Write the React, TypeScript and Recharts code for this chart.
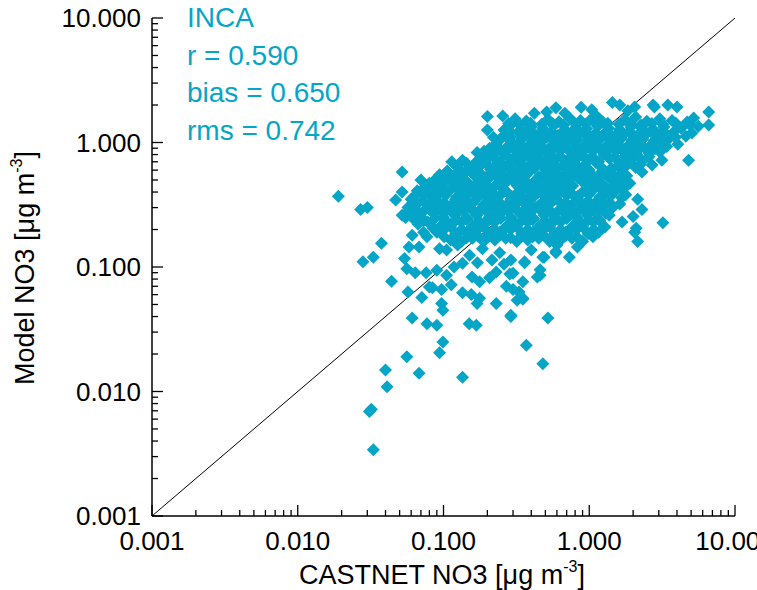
import { ScatterChart, Scatter, XAxis, YAxis } from 'recharts';

const CYAN = '#05a5c8';
const FONT = '"Liberation Sans", Arial, Helvetica, sans-serif';

// axis ticks: labelled decades plus the 2..9 minor marks
const decadeTicks = [0.001, 0.01, 0.1, 1, 10];
const minorTicks = [
  0.002, 0.003, 0.004, 0.005, 0.006, 0.007, 0.008, 0.009,
  0.02, 0.03, 0.04, 0.05, 0.06, 0.07, 0.08, 0.09,
  0.2, 0.3, 0.4, 0.5, 0.6, 0.7, 0.8, 0.9,
  2, 3, 4, 5, 6, 7, 8, 9,
];

const statLines = ['INCA', 'r = 0.590', 'bias = 0.650', 'rms = 0.742'];

// 1:1 line end points
const oneToOne = [{ x: 0.001, y: 0.001 }, { x: 10, y: 10 }];

// [CASTNET, model] pairs in µg m-3
const topRim: [number, number][] = [
  [0.2, 1.62], [0.255, 1.63], [0.42, 1.72], [0.51, 1.76], [0.59, 1.9], [0.68, 1.72],
  [0.88, 1.92], [1.04, 1.83], [1.13, 1.62], [1.44, 2.1], [1.62, 2.0], [1.84, 1.8],
  [2.05, 1.93], [2.74, 2.0], [2.8, 1.93], [3.46, 2.0], [4.0, 1.93], [6.6, 1.76], [6.6, 1.38],
];

const upperCore: [number, number][] = [
  [0.31, 1.55], [0.37, 1.49], [0.52, 1.54], [0.62, 1.47], [0.73, 1.58], [0.87, 1.5], [1.04, 1.56],
  [1.24, 1.46], [1.75, 1.53], [2.08, 1.6], [2.48, 1.48], [3.05, 1.55], [3.7, 1.5], [5.2, 1.57],
  [0.28, 1.42], [0.333, 1.39], [0.396, 1.43], [0.472, 1.4], [0.561, 1.42], [0.668, 1.38],
  [0.795, 1.43], [0.946, 1.41], [1.13, 1.39], [1.34, 1.43], [1.6, 1.4], [1.9, 1.42], [2.26, 1.38],
  [2.69, 1.42], [3.2, 1.4], [3.93, 1.43], [4.9, 1.39],
  [0.28, 1.33], [0.34, 1.28], [0.4, 1.34], [0.48, 1.3], [0.57, 1.36], [0.68, 1.27], [0.81, 1.32],
  [0.96, 1.29], [1.14, 1.35], [1.36, 1.3], [1.62, 1.27], [1.93, 1.34], [2.29, 1.31], [2.74, 1.28],
  [3.25, 1.33], [4.26, 1.3], [5.6, 1.35],
  [0.276, 1.22], [0.328, 1.19], [0.39, 1.23], [0.464, 1.2], [0.553, 1.22], [0.657, 1.19],
  [0.782, 1.23], [0.931, 1.21], [1.11, 1.19], [1.32, 1.23], [1.57, 1.2], [1.87, 1.22], [2.22, 1.19],
  [2.65, 1.23], [3.15, 1.2], [3.81, 1.22],
  [0.255, 1.11], [0.3, 1.16], [0.36, 1.12], [0.43, 1.15], [0.51, 1.1], [0.61, 1.14], [0.72, 1.12],
  [0.86, 1.17], [1.02, 1.11], [1.22, 1.13], [1.45, 1.09], [1.72, 1.15], [2.05, 1.12], [2.44, 1.16],
  [2.9, 1.1], [3.46, 1.14], [4.6, 1.12],
  [0.243, 1.05], [0.289, 1.03], [0.344, 1.07], [0.409, 1.04], [0.487, 1.06], [0.579, 1.03],
  [0.689, 1.06], [0.821, 1.04], [0.976, 1.07], [1.16, 1.03], [1.38, 1.05], [1.65, 1.07],
  [1.96, 1.04], [2.33, 1.06], [2.78, 1.03], [3.46, 1.05],
  [0.23, 0.98], [0.28, 0.95], [0.33, 0.99], [0.39, 0.96], [0.46, 1.0], [0.55, 0.94], [0.66, 0.97],
  [0.78, 1.0], [0.93, 0.95], [1.11, 0.98], [1.32, 0.94], [1.57, 0.99], [1.87, 0.96], [2.22, 0.98],
  [2.65, 0.95], [3.15, 0.99], [4.05, 0.97],
  [0.207, 0.9], [0.247, 0.88], [0.293, 0.92], [0.349, 0.89], [0.416, 0.91], [0.495, 0.88],
  [0.588, 0.92], [0.7, 0.9], [0.834, 0.88], [0.992, 0.91], [1.18, 0.89], [1.4, 0.92], [1.67, 0.88],
  [1.99, 0.9], [2.37, 0.92], [2.82, 0.89],
  [0.19, 0.85], [0.225, 0.82], [0.27, 0.86], [0.32, 0.83], [0.38, 0.85], [0.45, 0.81], [0.54, 0.84],
  [0.64, 0.87], [0.76, 0.82], [0.9, 0.84], [1.07, 0.86], [1.28, 0.82], [1.52, 0.85], [1.81, 0.83],
  [2.15, 0.86], [2.57, 0.82], [3.05, 0.84],
  [0.185, 0.78], [0.221, 0.76], [0.263, 0.8], [0.313, 0.77], [0.373, 0.79], [0.443, 0.76],
  [0.527, 0.8], [0.627, 0.78], [0.746, 0.76], [0.888, 0.79], [1.05, 0.77], [1.26, 0.8], [1.49, 0.76],
  [1.78, 0.78], [2.12, 0.8], [2.57, 0.77],
  [0.17, 0.71], [0.2, 0.74], [0.245, 0.7], [0.29, 0.73], [0.34, 0.72], [0.41, 0.75], [0.49, 0.7],
  [0.58, 0.73], [0.69, 0.71], [0.82, 0.74], [0.98, 0.72], [1.16, 0.7], [1.38, 0.74], [1.65, 0.72],
  [1.96, 0.73], [2.33, 0.71],
];

const middleCore: [number, number][] = [
  [0.144, 0.68], [0.163, 0.66], [0.194, 0.69], [0.232, 0.67], [0.276, 0.65], [0.328, 0.68],
  [0.39, 0.66], [0.464, 0.69], [0.553, 0.67], [0.657, 0.65], [0.782, 0.68], [0.931, 0.66],
  [1.11, 0.69], [1.57, 0.65], [1.87, 0.68], [2.22, 0.66],
  [0.125, 0.63], [0.15, 0.6], [0.176, 0.64], [0.21, 0.61], [0.25, 0.63], [0.3, 0.6], [0.355, 0.64],
  [0.42, 0.62], [0.5, 0.6], [0.6, 0.64], [0.71, 0.61], [0.85, 0.63], [1.0, 0.6], [1.2, 0.64],
  [1.42, 0.62], [1.7, 0.61], [2.08, 0.63],
  [0.106, 0.59], [0.123, 0.57], [0.146, 0.6], [0.174, 0.58], [0.207, 0.56], [0.247, 0.59],
  [0.293, 0.57], [0.349, 0.6], [0.495, 0.56], [0.588, 0.59], [0.7, 0.57], [0.834, 0.6],
  [0.992, 0.58], [1.18, 0.56], [1.4, 0.59], [1.67, 0.57],
  [0.094, 0.55], [0.112, 0.52], [0.133, 0.54], [0.158, 0.56], [0.188, 0.53], [0.225, 0.55],
  [0.267, 0.52], [0.318, 0.54], [0.378, 0.56], [0.45, 0.53], [0.536, 0.55], [0.637, 0.52],
  [0.76, 0.54], [0.9, 0.56], [1.07, 0.53], [1.28, 0.55], [1.52, 0.52], [1.81, 0.54],
  [0.087, 0.5], [0.103, 0.49], [0.123, 0.51], [0.146, 0.48], [0.174, 0.5], [0.207, 0.52],
  [0.247, 0.49], [0.293, 0.51], [0.349, 0.5], [0.416, 0.48], [0.495, 0.51], [0.588, 0.5],
  [0.7, 0.49], [0.834, 0.52], [0.992, 0.5], [1.18, 0.48], [1.4, 0.51], [1.67, 0.5],
  [0.08, 0.47], [0.095, 0.45], [0.114, 0.48], [0.135, 0.46], [0.16, 0.44], [0.19, 0.47], [0.23, 0.46],
  [0.27, 0.48], [0.32, 0.45], [0.38, 0.47], [0.46, 0.44], [0.54, 0.46], [0.65, 0.48], [0.77, 0.45],
  [0.92, 0.47], [1.09, 0.46], [1.3, 0.44], [1.54, 0.47], [1.84, 0.46],
  [0.073, 0.43], [0.087, 0.44], [0.103, 0.42], [0.123, 0.43], [0.146, 0.44], [0.174, 0.42],
  [0.207, 0.43], [0.247, 0.44], [0.349, 0.43], [0.416, 0.44], [0.495, 0.42], [0.588, 0.43],
  [0.7, 0.44], [0.992, 0.43], [1.18, 0.44], [1.4, 0.42], [1.65, 0.43],
  [0.066, 0.41], [0.079, 0.39], [0.094, 0.4], [0.112, 0.42], [0.133, 0.39], [0.158, 0.41],
  [0.188, 0.4], [0.225, 0.38], [0.267, 0.41], [0.318, 0.39], [0.378, 0.42], [0.45, 0.4],
  [0.536, 0.38], [0.637, 0.41], [0.758, 0.39], [0.9, 0.4], [1.07, 0.42], [1.28, 0.39],
  [1.52, 0.41], [1.78, 0.38],
  [0.063, 0.37], [0.073, 0.38], [0.087, 0.36], [0.103, 0.375], [0.123, 0.365], [0.146, 0.38],
  [0.174, 0.37], [0.207, 0.36], [0.247, 0.38], [0.293, 0.37], [0.349, 0.365], [0.416, 0.38],
  [0.495, 0.37], [0.588, 0.36], [0.7, 0.375], [0.834, 0.37], [0.992, 0.38], [1.18, 0.365], [1.4, 0.37],
  [0.06, 0.35], [0.072, 0.34], [0.085, 0.36], [0.101, 0.33], [0.121, 0.35], [0.144, 0.34],
  [0.171, 0.36], [0.204, 0.35], [0.243, 0.33], [0.29, 0.35], [0.344, 0.34], [0.41, 0.36],
  [0.49, 0.34], [0.58, 0.35], [0.69, 0.33], [0.82, 0.36], [0.98, 0.34], [1.16, 0.35],
  [1.38, 0.33], [1.67, 0.36],
];

const lowerCore: [number, number][] = [
  [0.066, 0.32], [0.079, 0.315], [0.094, 0.325], [0.112, 0.31], [0.133, 0.32], [0.158, 0.325],
  [0.188, 0.315], [0.225, 0.32], [0.267, 0.31], [0.318, 0.325], [0.378, 0.32], [0.449, 0.31],
  [0.536, 0.32], [0.637, 0.325], [0.758, 0.315], [0.902, 0.32], [1.07, 0.31], [1.28, 0.32],
  [0.063, 0.3], [0.075, 0.29], [0.089, 0.31], [0.106, 0.29], [0.127, 0.3], [0.151, 0.31],
  [0.179, 0.29], [0.214, 0.3], [0.255, 0.28], [0.303, 0.31], [0.36, 0.29], [0.43, 0.3],
  [0.51, 0.31], [0.61, 0.28], [0.72, 0.3], [0.86, 0.29], [1.02, 0.31], [1.22, 0.29], [1.45, 0.3],
  [0.0575, 0.28], [0.068, 0.27], [0.081, 0.285], [0.097, 0.275], [0.116, 0.27], [0.137, 0.28],
  [0.163, 0.275], [0.194, 0.285], [0.232, 0.27], [0.276, 0.28], [0.328, 0.275], [0.39, 0.27],
  [0.464, 0.285], [0.553, 0.275], [0.657, 0.28], [0.782, 0.27], [0.931, 0.28], [1.11, 0.275], [1.3, 0.27],
  [0.061, 0.26], [0.071, 0.25], [0.086, 0.27], [0.1, 0.25], [0.12, 0.26], [0.145, 0.24],
  [0.17, 0.26], [0.205, 0.25], [0.24, 0.27], [0.29, 0.25], [0.345, 0.26], [0.41, 0.24],
  [0.49, 0.26], [0.58, 0.25], [0.69, 0.27], [0.82, 0.25], [0.97, 0.26], [1.17, 0.24], [1.37, 0.26],
  [0.063, 0.24], [0.073, 0.235], [0.087, 0.245], [0.103, 0.235], [0.123, 0.24], [0.146, 0.245],
  [0.174, 0.235], [0.207, 0.24], [0.247, 0.245], [0.293, 0.235], [0.349, 0.24], [0.416, 0.245],
  [0.495, 0.235], [0.588, 0.24], [0.7, 0.245], [0.834, 0.235], [0.992, 0.24], [1.18, 0.235],
  [0.067, 0.22], [0.078, 0.23], [0.094, 0.21], [0.112, 0.22], [0.133, 0.23], [0.158, 0.21],
  [0.188, 0.22], [0.225, 0.23], [0.267, 0.21], [0.318, 0.22], [0.378, 0.23], [0.45, 0.21],
  [0.536, 0.22], [0.637, 0.23], [0.758, 0.21], [0.9, 0.22], [1.07, 0.23], [1.28, 0.21],
  [0.085, 0.205], [0.112, 0.21], [0.133, 0.2], [0.158, 0.205], [0.188, 0.21], [0.225, 0.2],
  [0.267, 0.205], [0.318, 0.21], [0.378, 0.2], [0.449, 0.205], [0.536, 0.21], [0.637, 0.2],
  [0.758, 0.205], [0.902, 0.21], [1.07, 0.2],
  [0.073, 0.19], [0.101, 0.2], [0.121, 0.185], [0.144, 0.19], [0.171, 0.2], [0.204, 0.185],
  [0.243, 0.19], [0.289, 0.2], [0.344, 0.185], [0.41, 0.19], [0.487, 0.2], [0.58, 0.185],
  [0.69, 0.19], [0.82, 0.2], [0.98, 0.185], [1.16, 0.19],
  [0.101, 0.175], [0.121, 0.18], [0.144, 0.172], [0.171, 0.178], [0.204, 0.175], [0.243, 0.18],
  [0.289, 0.172], [0.344, 0.178], [0.409, 0.175], [0.487, 0.18], [0.579, 0.172], [0.689, 0.178],
  [0.821, 0.175],
  [0.112, 0.165], [0.133, 0.16], [0.158, 0.17], [0.188, 0.16], [0.225, 0.165], [0.267, 0.17],
  [0.318, 0.16], [0.378, 0.165], [0.45, 0.17], [0.536, 0.16], [0.637, 0.165], [0.76, 0.17],
];

const rightFringe: [number, number][] = [
  [5.06, 1.19], [4.7, 1.46], [4.8, 0.72], [3.9, 1.1], [3.4, 0.93], [3.15, 0.72], [2.7, 0.66],
  [2.3, 0.58], [2.15, 0.35], [1.9, 0.47], [3.2, 0.227], [2.15, 0.16], [2.1, 0.205], [2.3, 0.29],
  [2.0, 0.255], [2.05, 0.19], [1.68, 0.23], [1.62, 0.32], [1.06, 0.175], [0.9, 0.16], [0.83, 0.145],
  [0.73, 0.12], [0.6, 0.15], [0.59, 0.133], [0.49, 0.12], [0.46, 0.095], [0.44, 0.083], [0.36, 0.11],
  [0.35, 0.076], [0.35, 0.056], [0.3, 0.066], [0.4, 0.137], [0.52, 0.039], [0.3, 0.089],
];

const upperLeft: [number, number][] = [
  [0.052, 0.58], [0.07, 0.5], [0.047, 0.345], [0.052, 0.4], [0.09, 0.43], [0.114, 0.7],
  [0.135, 0.72], [0.17, 0.83], [0.208, 0.87], [0.105, 0.57], [0.165, 0.6], [0.2, 1.26],
  [0.22, 1.1], [0.26, 1.26], [0.3, 1.46], [0.38, 1.26], [0.055, 0.25], [0.061, 0.18],
];

const lowerTail: [number, number][] = [
  [0.028, 0.11], [0.033, 0.12], [0.0375, 0.155], [0.044, 0.077], [0.057, 0.063], [0.054, 0.117],
  [0.056, 0.097], [0.064, 0.09], [0.076, 0.09], [0.071, 0.057], [0.08, 0.069], [0.061, 0.039],
  [0.077, 0.035], [0.09, 0.034], [0.099, 0.025], [0.094, 0.0205], [0.056, 0.019], [0.04, 0.0149],
  [0.068, 0.014], [0.041, 0.0109], [0.032, 0.0072], [0.031, 0.0069], [0.033, 0.0034], [0.135, 0.013],
  [0.37, 0.0235], [0.48, 0.0167], [0.29, 0.04], [0.15, 0.035], [0.168, 0.034], [0.23, 0.051],
  [0.17, 0.051], [0.097, 0.051], [0.099, 0.045], [0.35, 0.055], [0.285, 0.088], [0.33, 0.063],
  [0.27, 0.07], [0.23, 0.091], [0.207, 0.082], [0.177, 0.076], [0.157, 0.083], [0.36, 0.108],
  [0.46, 0.086], [0.48, 0.12], [0.59, 0.13], [0.135, 0.107], [0.215, 0.114], [0.052, 0.26],
  [0.057, 0.3], [0.058, 0.145], [0.068, 0.145], [0.077, 0.175], [0.09, 0.19], [0.105, 0.137],
  [0.094, 0.14], [0.084, 0.068], [0.09, 0.094], [0.105, 0.086], [0.097, 0.066], [0.113, 0.072],
  [0.118, 0.1], [0.135, 0.062], [0.177, 0.056], [0.29, 0.114], [0.155, 0.06], [0.29, 0.041],
  [0.32, 0.054], [0.151, 0.124], [0.185, 0.14], [0.243, 0.13], [0.171, 0.108], [0.26, 0.105],
  [0.125, 0.15],
];

const farOutliers: [number, number][] = [[0.019, 0.37], [0.027, 0.29], [0.03, 0.3]];

const points = [
  ...lowerTail, ...farOutliers, ...upperLeft, ...rightFringe,
  ...lowerCore, ...middleCore, ...upperCore, ...topRim,
].map(([x, y]) => ({ x, y }));

const axisTicks = [...decadeTicks, ...minorTicks];
const isDecade = (v: number) => decadeTicks.some((d) => Math.abs(d - v) < d * 1e-6);

const Diamond = (props: any) => {
  const { cx, cy } = props;
  if (cx == null || cy == null) return null;
  const r = 6.5;
  return <path d={`M${cx},${cy - r}L${cx + r},${cy}L${cx},${cy + r}L${cx - r},${cy}Z`} fill={CYAN} />;
};

// ticks point into the plot; only decades get a label
const XTick = (props: any) => {
  const { x, y, payload } = props;
  const major = isDecade(payload.value);
  return (
    <g>
      <line x1={x} x2={x} y1={y} y2={y - (major ? 11 : 6)} stroke="#000" strokeWidth={1.3} />
      {major && (
        <text x={x} y={y + 34} textAnchor="middle" fontSize={26} fontFamily={FONT} fill="#000">
          {payload.value.toFixed(3)}
        </text>
      )}
    </g>
  );
};

const YTick = (props: any) => {
  const { x, y, payload } = props;
  const major = isDecade(payload.value);
  return (
    <g>
      <line x1={x} x2={x + (major ? 11 : 6)} y1={y} y2={y} stroke="#000" strokeWidth={1.3} />
      {major && (
        <text x={x - 11} y={y + 9} textAnchor="end" fontSize={26} fontFamily={FONT} fill="#000">
          {payload.value.toFixed(3)}
        </text>
      )}
    </g>
  );
};

export default function App() {
  return (
    <div style={{ position: 'absolute', left: 0, top: 0, width: 757, height: 590, background: '#fff' }}>
      <ScatterChart width={757} height={590} margin={{ top: 18, right: 22, bottom: 0, left: 0 }}>
        <XAxis
          type="number"
          dataKey="x"
          scale="log"
          domain={[0.001, 10]}
          allowDataOverflow
          ticks={axisTicks}
          interval={0}
          tickSize={0}
          tickMargin={0}
          tickLine={false}
          tick={(p: any) => <XTick {...p} />}
          height={74}
          axisLine={{ stroke: '#000', strokeWidth: 1.5 }}
        />
        <YAxis
          type="number"
          dataKey="y"
          scale="log"
          domain={[0.001, 10]}
          allowDataOverflow
          ticks={axisTicks}
          interval={0}
          tickSize={0}
          tickMargin={0}
          tickLine={false}
          tick={(p: any) => <YTick {...p} />}
          width={152}
          axisLine={{ stroke: '#000', strokeWidth: 1.5 }}
        />
        {/* 1:1 line, drawn first so the markers sit on top of it */}
        <Scatter
          data={oneToOne}
          line={{ stroke: '#000', strokeWidth: 1 }}
          shape={() => null}
          isAnimationActive={false}
        />
        <Scatter data={points} shape={<Diamond />} isAnimationActive={false} />
      </ScatterChart>
      <svg
        width={757}
        height={590}
        style={{ position: 'absolute', left: 0, top: 0, pointerEvents: 'none' }}
        fontFamily={FONT}
      >
        {statLines.map((s, i) => (
          <text key={s} x={187} y={27 + i * 37.7} fontSize={28} fill={CYAN}>
            {s}
          </text>
        ))}
        <text x={442} y={584} textAnchor="middle" fontSize={27} fill="#000">
          CASTNET NO3 [μg m<tspan dy={-12} fontSize={16}>-3</tspan>
          <tspan dy={12}>]</tspan>
        </text>
        <text x={34} y={268} textAnchor="middle" fontSize={27} fill="#000" transform="rotate(-90 34 268)">
          Model NO3 [μg m<tspan dy={-12} fontSize={16}>-3</tspan>
          <tspan dy={12}>]</tspan>
        </text>
      </svg>
    </div>
  );
}
